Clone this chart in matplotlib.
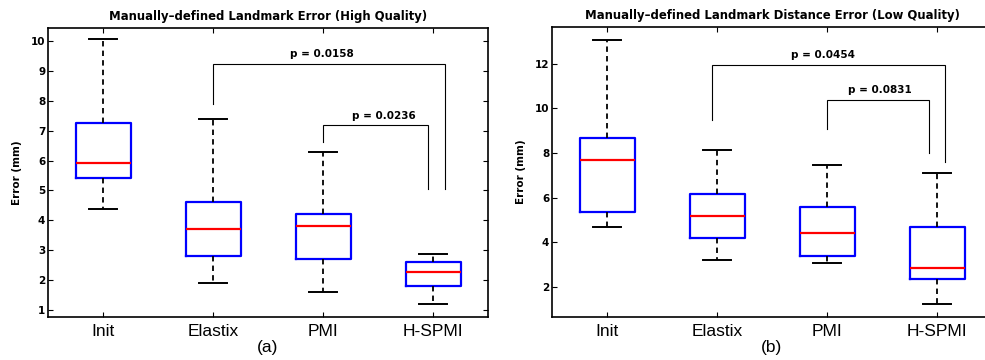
import matplotlib
matplotlib.use("Agg")
import matplotlib.pyplot as plt

categories = ["Init", "Elastix", "PMI", "H-SPMI"]

# High quality panel (a)
hq_whislo = [4.37, 1.92, 1.60, 1.20]
hq_q1 = [5.43, 2.82, 2.72, 1.82]
hq_med = [5.93, 3.72, 3.82, 2.27]
hq_q3 = [7.25, 4.62, 4.20, 2.62]
hq_whishi = [10.05, 7.38, 6.28, 2.88]

# Low quality panel (b)
lq_whislo = [4.68, 3.20, 3.07, 1.24]
lq_q1 = [5.35, 4.19, 3.38, 2.36]
lq_med = [7.71, 5.17, 4.41, 2.85]
lq_q3 = [8.70, 6.15, 5.57, 4.68]
lq_whishi = [13.07, 8.12, 7.49, 7.13]

hq_pvals = ["p = 0.0158", "p = 0.0236"]
lq_pvals = ["p = 0.0454", "p = 0.0831"]

W, H = 985, 360
fig = plt.figure(figsize=(W / 100, H / 100), dpi=100)
fig.patch.set_facecolor("white")

def make_axes(left_px, top_px, bottom_px, width_px):
    return fig.add_axes([left_px / W, 1 - bottom_px / H, width_px / W, (bottom_px - top_px) / H])

def draw_panel(ax, lo, q1, med, q3, hi, title, sub):
    stats = []
    for i, c in enumerate(categories):
        stats.append(dict(label=c, whislo=lo[i], q1=q1[i], med=med[i], q3=q3[i],
                          whishi=hi[i], fliers=[]))
    ax.bxp(stats, positions=range(1, len(categories) + 1), widths=0.5, capwidths=0.26,
           showfliers=False,
           boxprops=dict(color="#0000ff", linewidth=1.6),
           medianprops=dict(color="#ff0000", linewidth=1.6),
           whiskerprops=dict(color="black", linewidth=1.3, linestyle=(0, (3, 2.3))),
           capprops=dict(color="black", linewidth=1.4))
    ax.set_xlim(0.5, 4.5)
    ax.set_xticks(range(1, 5))
    ax.set_xticklabels(categories, fontsize=12.5, family="Liberation Sans")
    ax.tick_params(axis="both", direction="in", top=True, right=True, length=3.5, width=0.8)
    ax.tick_params(axis="x", pad=5)
    ax.tick_params(axis="y", pad=2)
    for s in ax.spines.values():
        s.set_linewidth(1.2)
    ax.set_title(title, fontsize=8.4, fontweight="bold", pad=6)
    ax.set_ylabel("Error (mm)", fontsize=7.5, fontweight="bold", labelpad=6)
    ax.text(0.5, -0.078, sub, transform=ax.transAxes, ha="center", va="top",
            fontsize=12.5, family="Liberation Sans")

def bracket(ax, x1, x2, y, y1, y2, txt, tx, ty):
    ax.plot([x1, x1, x2, x2], [y1, y, y, y2], color="black", linewidth=0.8,
            solid_joinstyle="miter")
    ax.text(tx, ty, txt, ha="center", va="center", fontsize=7.5, fontweight="bold")

ax1 = make_axes(48, 28, 317, 440)
draw_panel(ax1, hq_whislo, hq_q1, hq_med, hq_q3, hq_whishi,
           "Manually\u2013defined Landmark Error (High Quality)", "(a)")
ax1.set_ylim(0.77, 10.43)
ax1.set_yticks(range(1, 11))
for lab in ax1.get_yticklabels():
    lab.set_fontweight("bold"); lab.set_fontsize(7.5)
bracket(ax1, 2.0, 4.11, 9.23, 7.88, 5.05, hq_pvals[0], 2.99, 9.57)
bracket(ax1, 3.0, 3.95, 7.18, 6.63, 5.05, hq_pvals[1], 3.55, 7.5)

ax2 = make_axes(552, 27, 317, 440)
draw_panel(ax2, lq_whislo, lq_q1, lq_med, lq_q3, lq_whishi,
           "Manually\u2013defined Landmark Distance Error (Low Quality)", "(b)")
ax2.set_ylim(0.66, 13.65)
ax2.set_yticks(range(2, 13, 2))
for lab in ax2.get_yticklabels():
    lab.set_fontweight("bold"); lab.set_fontsize(7.5)
bracket(ax2, 1.95, 4.07, 11.95, 9.5, 7.6, lq_pvals[0], 2.96, 12.4)
bracket(ax2, 3.0, 3.93, 10.4, 9.1, 8.0, lq_pvals[1], 3.48, 10.85)

fig.savefig("out.png", dpi=100, facecolor="white")
